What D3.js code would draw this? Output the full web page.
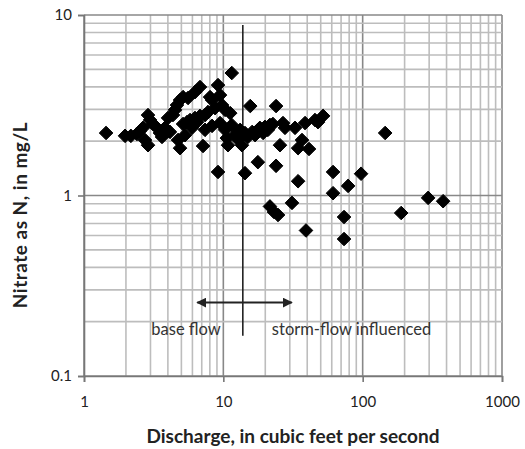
<!DOCTYPE html>
<html>
<head>
<meta charset="utf-8">
<script src="https://cdn.jsdelivr.net/npm/d3@7"></script>
<style>
  body { margin: 0; background: #fff; }
  svg { display: block; font-family: Lato, "Open Sans", sans-serif; }
</style>
</head>
<body>
<svg id="chart" width="525" height="449"></svg>
<script>
// axis ticks
var xTicks = [1, 10, 100, 1000];
var xTickLabels = ["1", "10", "100", "1000"];
var yTicks = [0.1, 1, 10];
var yTickLabels = ["0.1", "1", "10"];

// discharge (cfs) and nitrate (mg/L)
var discharge = [
  1.44, 1.97, 2.17, 2.40, 2.52, 2.65, 2.88, 2.88, 2.74, 2.98,
  3.13, 3.34, 3.51, 3.63, 3.81, 4.01, 4.14, 4.35, 4.50, 4.65,
  4.73, 4.89, 4.89, 5.14, 5.14, 5.31, 5.49, 5.58, 5.77, 5.96,
  6.26, 6.26, 6.47, 6.80, 6.80, 7.15, 7.39, 7.39, 7.76, 8.03,
  8.30, 8.30, 8.72, 9.16, 9.16, 9.47, 9.47, 9.79, 10.3, 10.3,
  10.6, 10.8, 11.2, 11.5, 11.5, 12.1, 12.8, 13.2, 13.6, 14.3,
  14.3, 15.0, 15.6, 16.1, 16.9, 17.7, 17.7, 18.3, 19.3, 19.9,
  20.9, 21.6, 21.6, 22.7, 23.9, 23.9, 23.1, 24.7, 25.5, 26.8,
  27.7, 31.1, 32.7, 34.4, 34.4, 36.7, 38.6, 39.2, 41.2, 45.5,
  47.8, 52.0, 61.3, 61.3, 73.5, 73.5, 78.6, 97.4, 145, 189,
  295, 378
];
var nitrate = [
  2.22, 2.14, 2.14, 2.19, 2.28, 2.37, 2.79, 1.90, 2.03, 2.62,
  2.49, 2.37, 2.22, 2.11, 2.37, 2.69, 2.25, 2.79, 2.98, 3.17,
  2.03, 1.83, 3.38, 3.51, 2.49, 2.16, 2.55, 3.47, 2.62, 2.37,
  3.74, 2.69, 2.55, 3.99, 2.76, 1.88, 2.79, 2.31, 2.90, 3.51,
  3.38, 2.43, 3.05, 4.09, 1.35, 3.60, 2.52, 3.17, 2.98, 2.31,
  2.08, 1.90, 2.86, 4.77, 2.46, 2.16, 2.03, 2.31, 1.90, 2.22,
  1.33, 2.11, 3.13, 2.25, 2.16, 2.31, 1.53, 2.37, 2.22, 2.40,
  2.31, 2.46, 0.87, 2.49, 3.13, 1.46, 0.81, 0.78, 1.90, 2.52,
  2.37, 0.91, 2.37, 1.83, 1.20, 2.03, 2.52, 0.64, 1.81, 2.62,
  2.55, 2.76, 1.35, 1.03, 0.76, 0.574, 1.13, 1.32, 2.22, 0.80,
  0.97, 0.93
];

// divider between base flow and storm flow, and the arrow
var dividerQ = 13.8, dividerTop = 8.8, dividerBottom = 0.167;
var arrowFrom = 6.5, arrowTo = 31, arrowLevel = 0.255;

var svg = d3.select("#chart");
var margin = {left: 84, right: 23, top: 15, bottom: 73};
var width = 525, height = 449;

var x = d3.scaleLog().domain([1, 1000]).range([margin.left, width - margin.right]);
var y = d3.scaleLog().domain([0.1, 10]).range([height - margin.bottom, margin.top]);

// grid lines
var grid = svg.append("g");
grid.selectAll(".vgrid")
  .data(x.ticks())
  .enter().append("line")
  .attr("x1", function (d) { return x(d) }).attr("x2", function (d) { return x(d) })
  .attr("y1", y(0.1)).attr("y2", y(10))
  .attr("stroke", function (d) { return xTicks.indexOf(d) >= 0 ? "#888" : "#bdbdbd" })
  .attr("stroke-width", 1.6);
grid.selectAll(".hgrid")
  .data(y.ticks())
  .enter().append("line")
  .attr("x1", x(1)).attr("x2", x(1000))
  .attr("y1", function (d) { return y(d) }).attr("y2", function (d) { return y(d) })
  .attr("stroke", function (d) { return yTicks.indexOf(d) >= 0 ? "#888" : "#bdbdbd" })
  .attr("stroke-width", 1.6);

// axes
var xAxis = svg.append("g")
  .attr("transform", "translate(0," + y(0.1) + ")")
  .call(d3.axisBottom(x).tickValues(xTicks)
    .tickFormat(function (d, i) { return xTickLabels[i] }).tickSize(6).tickPadding(14));
var yAxis = svg.append("g")
  .attr("transform", "translate(" + x(1) + ",0)")
  .call(d3.axisLeft(y).tickValues(yTicks)
    .tickFormat(function (d, i) { return yTickLabels[i] }).tickSize(6).tickPadding(6));
[xAxis, yAxis].forEach(function (a) {
  a.select(".domain").attr("stroke", "#777").attr("stroke-width", 1.6);
  a.selectAll(".tick line").attr("stroke", "#777").attr("stroke-width", 1.6);
  a.selectAll("text").attr("font-size", 15).attr("fill", "#222")
    .attr("font-family", "Lato, sans-serif");
});

// divider line
svg.append("line")
  .attr("x1", x(dividerQ)).attr("x2", x(dividerQ))
  .attr("y1", y(dividerTop)).attr("y2", y(dividerBottom))
  .attr("stroke", "#222").attr("stroke-width", 1.6);

// double arrow
var defs = svg.append("defs");
defs.append("marker").attr("id", "head")
  .attr("viewBox", "0 0 10 10").attr("refX", 9).attr("refY", 5)
  .attr("markerWidth", 5).attr("markerHeight", 5)
  .attr("orient", "auto-start-reverse")
  .append("path").attr("d", "M0,0 L10,5 L0,10 Z").attr("fill", "#222");
svg.append("line")
  .attr("x1", x(arrowFrom)).attr("x2", x(arrowTo))
  .attr("y1", y(arrowLevel)).attr("y2", y(arrowLevel))
  .attr("stroke", "#222").attr("stroke-width", 2)
  .attr("marker-start", "url(#head)").attr("marker-end", "url(#head)");

svg.append("text")
  .attr("x", x(5.4)).attr("y", y(0.168))
  .attr("text-anchor", "middle").attr("font-size", 16.5).attr("fill", "#333")
  .text("base flow");
svg.append("text")
  .attr("x", x(22.3)).attr("y", y(0.168))
  .attr("font-size", 16.5).attr("fill", "#333")
  .text("storm-flow influenced");

// points
var points = discharge.map(function (d, i) { return {q: d, n: nitrate[i]} });
var r = 6.8;
svg.append("g").selectAll("path")
  .data(points)
  .enter().append("path")
  .attr("transform", function (d) { return "translate(" + x(d.q) + "," + y(d.n) + ")" })
  .attr("d", "M0," + (-r) + "L" + r + ",0L0," + r + "L" + (-r) + ",0Z")
  .attr("fill", "#000")
  .attr("stroke", "#000").attr("stroke-width", 1).attr("stroke-linejoin", "round");

// axis titles
svg.append("text")
  .attr("x", (x(1) + x(1000)) / 2).attr("y", 443)
  .attr("text-anchor", "middle").attr("font-size", 19).attr("font-weight", "bold")
  .attr("fill", "#222")
  .text("Discharge, in cubic feet per second");
svg.append("text")
  .attr("transform", "translate(27,215) rotate(-90)")
  .attr("text-anchor", "middle").attr("font-size", 19).attr("font-weight", "bold")
  .attr("fill", "#222").attr("letter-spacing", "0.5px")
  .text("Nitrate as N, in mg/L");
</script>
</body>
</html>
